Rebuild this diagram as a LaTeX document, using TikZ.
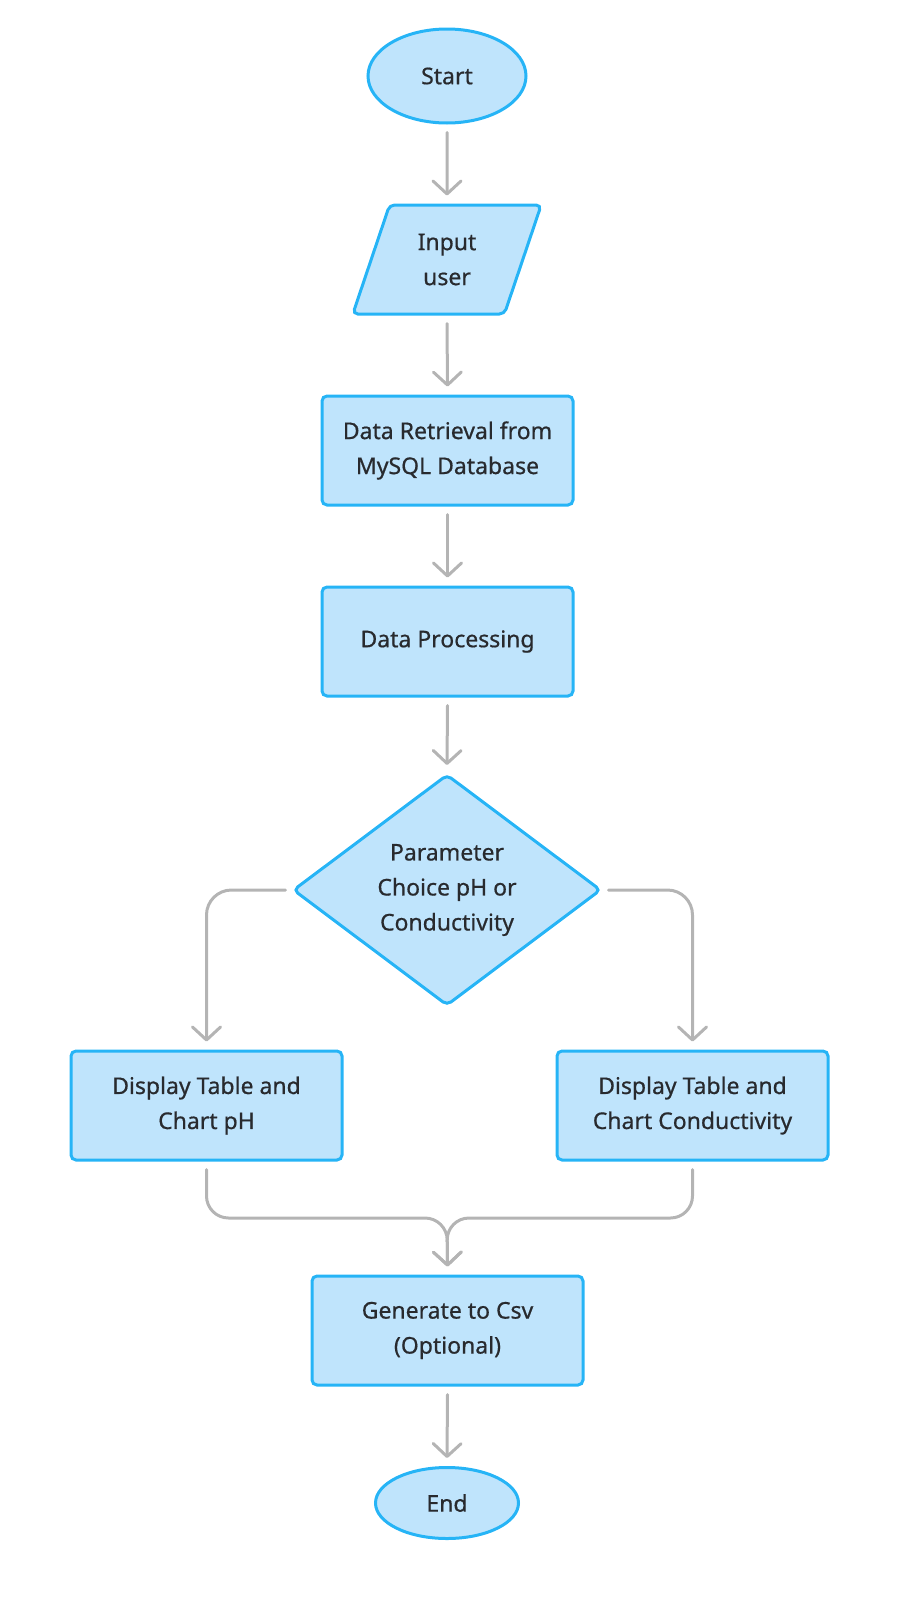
\documentclass[tikz,border=0pt]{standalone}
\usepackage{fontspec}
\setmainfont{Noto Sans}[FakeBold=0.6]
\usetikzlibrary{shapes.geometric,arrows.meta}
\definecolor{boxfill}{RGB}{191,228,252}
\definecolor{boxdraw}{RGB}{38,180,246}
\definecolor{linegray}{RGB}{180,180,180}
\definecolor{txt}{RGB}{40,42,46}
\tikzset{
  base/.style={draw=boxdraw, fill=boxfill, line width=3pt, text=txt, align=center,
    font=\fontsize{23}{35}\selectfont, inner sep=0pt},
  procbox/.style={base, rectangle, rounded corners=5pt, minimum height=109pt},
  term/.style={base, ellipse},
  io/.style={base, trapezium, trapezium left angle=70, trapezium right angle=110,
    trapezium stretches=true, minimum width=190pt, minimum height=109pt, rounded corners=5pt},
  decision/.style={base, diamond, minimum width=308pt, minimum height=226pt, rounded corners=5pt},
  conn/.style={draw=linegray, line width=3pt, line cap=round, line join=round},
  arr/.style={conn, -{Straight Barb[length=13pt,width=28pt,line width=3pt,round]}},
}
\begin{document}
\begin{tikzpicture}[x=1pt,y=-1pt]
\path[use as bounding box] (0,0) rectangle (917,1601);
\node[term, minimum width=158pt, minimum height=94pt] (start) at (447,76) {Start};
\node[io] (input) at (447,259.5) {Input\\user};
\node[procbox, minimum width=251pt] (retr) at (447.5,450.5) {Data Retrieval from\\MySQL Database};
\node[procbox, minimum width=251pt] (proc) at (447.5,641.5) {Data Processing};
\node[decision] (dec) at (447,890) {Parameter\\Choice pH or\\Conductivity};
\node[procbox, minimum width=271pt] (ph) at (206.5,1105.5) {Display Table and\\Chart pH};
\node[procbox, minimum width=271pt] (cond) at (692.5,1105.5) {Display Table and\\Chart Conductivity};
\node[procbox, minimum width=271pt] (gen) at (447.5,1330.5) {Generate to Csv\\(Optional)};
\node[term, minimum width=143pt, minimum height=71pt] (end) at (447,1503) {End};
\coordinate (merge) at (447,1218);

\draw[arr] ([yshift=-8pt]start.south) -- ([yshift=8pt]input.north);
\draw[arr] ([yshift=-8pt]input.south) -- ([yshift=8pt]retr.north);
\draw[arr] ([yshift=-8pt]retr.south) -- ([yshift=8pt]proc.north);
\draw[arr] ([yshift=-8pt]proc.south) -- ([yshift=8pt]dec.north);
\draw[arr, rounded corners=25pt] ([xshift=-6pt]dec.west) -| ([yshift=8pt]ph.north);
\draw[arr, rounded corners=25pt] ([xshift=6pt]dec.east) -| ([yshift=8pt]cond.north);
\draw[arr, rounded corners=22pt] ([yshift=-8pt]ph.south) |- (merge) -- ([yshift=8pt]gen.north);
\draw[arr, rounded corners=22pt] ([yshift=-8pt]cond.south) |- (merge) -- ([yshift=8pt]gen.north);
\draw[arr] ([yshift=-8pt]gen.south) -- ([yshift=8pt]end.north);
\end{tikzpicture}
\end{document}
